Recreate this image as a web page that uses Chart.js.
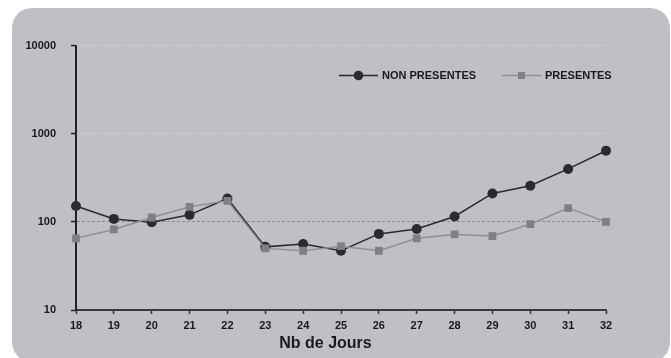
<!DOCTYPE html>
<html>
<head>
<meta charset="utf-8">
<script src="https://cdn.jsdelivr.net/npm/chart.js@4"></script>
<style>
  html, body { margin: 0; padding: 0; background: #fff; }
  #wrap { width: 671px; height: 358px; }
</style>
</head>
<body>
<div id="wrap"><canvas id="myChart" width="671" height="358"></canvas></div>
<script>
var days = ["18", "19", "20", "21", "22", "23", "24", "25", "26", "27", "28", "29", "30", "31", "32"];
var nonPresentes = [151, 108, 99, 120, 184, 52, 56, 47, 73, 83, 115, 210, 257, 398, 640];
var presentes = [65, 82, 112, 148, 173, 50, 47, 53, 47, 65, 72, 69, 94, 143, 100];
var yTicks = [10, 100, 1000, 10000];
var seriesNames = ["NON PRESENTES", "PRESENTES"];
var axisTitle = "Nb de Jours";

var panelGray = "#bfc0c4";
var textColor = "#1a1a1a";
var fontFam = "'Liberation Sans', Arial, sans-serif";

// grey rounded panel behind the whole chart
var panelPlugin = {
  id: "panel",
  beforeDraw: function(chart) {
    let ctx = chart.ctx;
    ctx.save();
    ctx.fillStyle = "#ffffff";
    ctx.fillRect(0, 0, chart.width, chart.height);
    ctx.fillStyle = panelGray;
    ctx.beginPath();
    if (ctx.roundRect) {
      ctx.roundRect(12, 8, 658, 354, 20);
    } else {
      Chart.helpers.addRoundedRectPath(ctx, {x: 12, y: 8, w: 658, h: 354, radius: {topLeft: 20, topRight: 20, bottomLeft: 20, bottomRight: 20}});
    }
    ctx.fill();
    ctx.restore();
  }
};

// legend drawn as line + marker, inside the plot, plus the x axis title
var legendPlugin = {
  id: "lineLegend",
  afterDraw: function(chart, args, opts) {
    let ctx = chart.ctx;
    chart.data.datasets.forEach(function(ds, i) {
      let x = opts.x[i];
      let y = opts.y;
      ctx.save();
      ctx.strokeStyle = ds.borderColor;
      ctx.lineWidth = ds.borderWidth;
      ctx.beginPath();
      ctx.moveTo(x, y);
      ctx.lineTo(x + opts.lineLen, y);
      ctx.stroke();
      ctx.fillStyle = ds.pointBackgroundColor;
      ctx.strokeStyle = ds.pointBackgroundColor;
      Chart.helpers.drawPoint(ctx, {pointStyle: ds.pointStyle, radius: opts.radius[i], borderWidth: 0}, x + opts.lineLen / 2, y);
      ctx.fillStyle = textColor;
      ctx.font = "bold 11px " + fontFam;
      ctx.textBaseline = "middle";
      ctx.fillText(ds.label, x + opts.lineLen + 4, y + 0.5);
      ctx.restore();
    });
    ctx.save();
    ctx.fillStyle = textColor;
    ctx.font = "bold 16px " + fontFam;
    ctx.textAlign = "center";
    ctx.textBaseline = "middle";
    ctx.fillText(axisTitle, opts.titleX, opts.titleY);
    ctx.restore();
  }
};

function tickVal(c) {
  return c && c.tick ? c.tick.value : null;
}

new Chart("myChart", {
  type: "line",
  data: {
    labels: days,
    datasets: [{
      label: seriesNames[0],
      data: nonPresentes,
      borderColor: "#2a2a2c",
      borderWidth: 1.5,
      pointStyle: "circle",
      pointRadius: 5,
      pointBackgroundColor: "#2b2b2e",
      pointBorderColor: "#2b2b2e",
      pointBorderWidth: 0,
      tension: 0,
      order: 1
    }, {
      label: seriesNames[1],
      data: presentes,
      borderColor: "#909093",
      borderWidth: 1.5,
      pointStyle: "rect",
      pointRadius: 5.5,
      pointBackgroundColor: "#808083",
      pointBorderColor: "#808083",
      pointBorderWidth: 0,
      tension: 0,
      order: 0
    }]
  },
  options: {
    responsive: false,
    animation: false,
    layout: {padding: {left: 22, right: 65, top: 45.5, bottom: 0}},
    plugins: {
      legend: {display: false},
      tooltip: {enabled: false},
      title: {display: false},
      lineLegend: {x: [339, 502], y: 75.5, lineLen: 39, radius: [4.8, 5], titleX: 325.5, titleY: 343.5}
    },
    scales: {
      x: {
        type: "category",
        offset: false,
        afterFit: function(s) { s.height = 48; },
        grid: {drawOnChartArea: false, drawTicks: true, tickLength: 4, tickColor: "#333", tickWidth: 1.5},
        border: {color: "#3a3a3a", width: 2},
        ticks: {color: textColor, font: {family: fontFam, size: 11, weight: "bold"}, padding: 5, maxRotation: 0, autoSkip: false}
      },
      y: {
        type: "logarithmic",
        min: 10,
        max: 10000,
        afterFit: function(s) { s.width = 54; },
        afterBuildTicks: function(s) {
          s.ticks = yTicks.map(function(v) { return {value: v}; });
        },
        grid: {
          drawTicks: true,
          tickLength: 5,
          tickWidth: 1.5,
          tickColor: "#222",
          tickBorderDash: [],
          lineWidth: 1,
          color: function(c) {
            let v = tickVal(c);
            if (v === 10) return "rgba(0,0,0,0)";
            if (v === 100) return "#8a8a8c";
            return "#dcdcdf";
          }
        },
        border: {
          color: "#222",
          width: 2,
          dash: function(c) {
            return tickVal(c) === 100 ? [3, 2] : [1, 2];
          }
        },
        ticks: {
          color: textColor,
          font: {family: fontFam, size: 11, weight: "bold"},
          padding: 15,
          callback: function(v) { return String(v); }
        }
      }
    }
  },
  plugins: [panelPlugin, legendPlugin]
});
</script>
</body>
</html>
